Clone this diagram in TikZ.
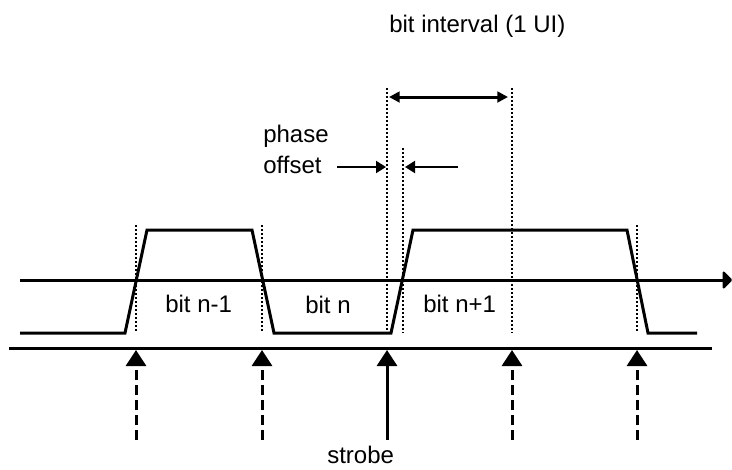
\documentclass[tikz,border=0pt]{standalone}
\usepackage{fontspec}
\setmainfont{Liberation Sans}
\usetikzlibrary{arrows.meta}
\begin{document}
\begin{tikzpicture}[
  x=0.75pt,y=-0.75pt,
  lbl/.style={anchor=base west,inner sep=0pt,font=\fontsize{18}{22}\selectfont},
  signal/.style={line width=2.25pt},
  marker/.style={line width=1.5pt,dash pattern=on 1.5pt off 1.5pt},
  sample/.style={line width=2.25pt,-{Triangle[width=15pt,length=12pt]}},
  span/.style={line width=2.25pt,{Triangle[width=8pt,length=8pt]}-{Triangle[width=8pt,length=8pt]}},
  pointer/.style={line width=1.5pt,-{Triangle[width=9pt,length=7.5pt]}},
]
  \useasboundingbox (0,0) rectangle (732,469);

  % time axis and reference line
  \coordinate (ax0)  at (20,280);
  \coordinate (ax1)  at (732,280);
  \coordinate (ref0) at (9,348);
  \coordinate (ref1) at (712,348);
  \draw[signal,-{Triangle[width=15pt,length=7.5pt,round]}] (ax0) -- (ax1);
  \draw[signal] (ref0) -- (ref1);

  % data signal
  \draw[signal] (20,333) -- (125,333) -- (147,230) -- (252,230) -- (274,333)
    -- (391,333) -- (413,230) -- (627,230) -- (648,333) -- (697,333);

  % crossing markers
  \foreach \name/\x/\top in {m1/136/225, m2/262/225, m3/387/88, m4/403/148, m5/512/88, m6/637/225} {
    \coordinate (\name-t) at (\x,\top);
    \coordinate (\name-b) at (\x,333);
    \draw[marker] (\name-t) -- (\name-b);
  }

  % strobe arrows
  \foreach \x [count=\i] in {136,262,512,637} {
    \coordinate (s\i-a) at (\x,440);
    \coordinate (s\i-b) at (\x,350);
    \draw[sample,dash pattern=on 7.5pt off 3.75pt] (s\i-a) -- (s\i-b);
  }
  \coordinate (st-a) at (387,440);
  \coordinate (st-b) at (387,350);
  \draw[sample] (st-a) -- (st-b);

  % bit interval
  \coordinate (ui0) at (389,97);
  \coordinate (ui1) at (508,97);
  \draw[span] (ui0) -- (ui1);

  % phase offset
  \coordinate (po0) at (337,167);
  \coordinate (po1) at (386,167);
  \coordinate (po2) at (458,167);
  \coordinate (po3) at (405,167);
  \draw[pointer] (po0) -- (po1);
  \draw[pointer] (po2) -- (po3);

  % labels
  \node[lbl] (uilbl)  at (389,32)  {bit interval (1 UI)};
  \node[lbl] (phase)  at (263,142) {phase};
  \node[lbl] (offset) at (263,173) {offset};
  \node[lbl] (bprev)  at (165,312) {bit n-1};
  \node[lbl] (bcur)   at (305,313) {bit n};
  \node[lbl] (bnext)  at (423,312) {bit n+1};
  \node[lbl] (strobe) at (327,463) {strobe};
\end{tikzpicture}
\end{document}
